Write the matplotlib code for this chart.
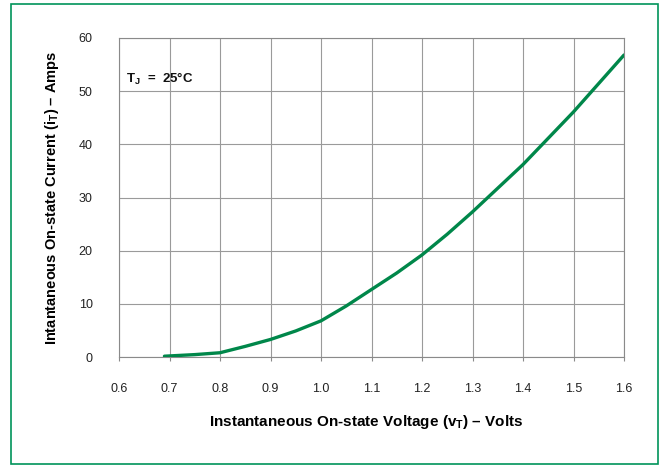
import matplotlib
matplotlib.use("Agg")
import matplotlib.pyplot as plt
import numpy as np
from matplotlib.patches import Rectangle

plt.rcParams['font.family'] = ['Liberation Sans', 'DejaVu Sans']
plt.rcParams['mathtext.fontset'] = 'custom'
plt.rcParams['mathtext.rm'] = 'Liberation Sans'
plt.rcParams['mathtext.bf'] = 'Liberation Sans:bold'
plt.rcParams['mathtext.it'] = 'Liberation Sans:italic'

voltage = [0.69, 0.75, 0.80, 0.85, 0.90, 0.95, 1.00, 1.05, 1.10, 1.15, 1.20, 1.25, 1.30, 1.40, 1.50, 1.60]
current = [0.15, 0.45, 0.8, 2.0, 3.3, 4.9, 6.8, 9.6, 12.7, 15.8, 19.2, 23.1, 27.3, 36.2, 46.1, 56.8]

x_ticks = [0.6, 0.7, 0.8, 0.9, 1.0, 1.1, 1.2, 1.3, 1.4, 1.5, 1.6]
x_tick_labels = ["0.6", "0.7", "0.8", "0.9", "1.0", "1.1", "1.2", "1.3", "1.4", "1.5", "1.6"]
y_ticks = [0, 10, 20, 30, 40, 50, 60]
y_tick_labels = ["0", "10", "20", "30", "40", "50", "60"]

fig = plt.figure(figsize=(6.62, 4.68), dpi=100)
fig.patch.set_facecolor('white')
fig.add_artist(Rectangle((11/662, 4/468), 647/662, 460/468, transform=fig.transFigure,
                         fill=False, edgecolor='#00945a', linewidth=1.2))

ax = fig.add_axes([119/662, 1-357/468, 505/662, 319/468])
ax.plot(voltage, current, color='#00874a', linewidth=2.4, solid_capstyle='round', zorder=3)
ax.set_xlim(0.6, 1.6)
ax.set_ylim(0, 60)
ax.set_xticks(x_ticks)
ax.set_xticklabels(x_tick_labels)
ax.set_yticks(y_ticks)
ax.set_yticklabels(y_tick_labels)
ax.grid(True, color='#9a9a9a', linewidth=0.8)
for s in ax.spines.values():
    s.set_color('#8a8a8a')
    s.set_linewidth(0.8)
ax.tick_params(axis='x', length=3, color='#8a8a8a', pad=16, labelsize=9, labelcolor='#222222')
ax.tick_params(axis='y', length=0, pad=19, labelsize=9, labelcolor='#222222')

ax.set_xlabel(r"Instantaneous On-state Voltage (v$_\mathbf{T}$) – Volts", fontsize=11,
              fontweight='bold', labelpad=15)
ax.xaxis.set_label_coords(0.49, -0.175)
ax.set_ylabel(r"Intantaneous On-state Current (i$_\mathbf{T}$) – Amps", fontsize=10.5,
              fontweight='bold', labelpad=13)

ax.text(0.613, 52.3, r"T$_\mathbf{J}$  =  25°C", fontsize=9.5, fontweight='bold', va='center', ha='left',
        color='#111111')

fig.savefig("out.png", dpi=100)
